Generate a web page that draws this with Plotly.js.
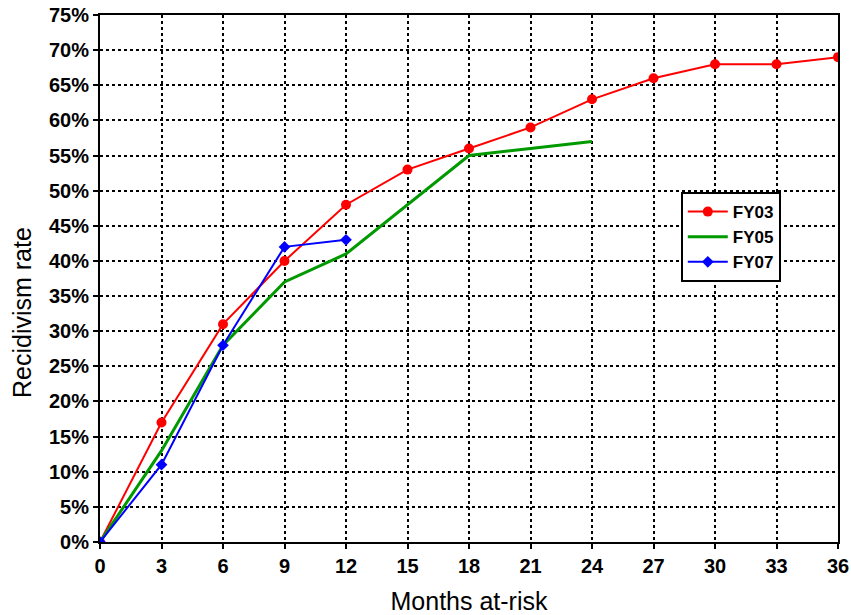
<!DOCTYPE html>
<html>
<head>
<meta charset="utf-8">
<script src="https://cdn.plot.ly/plotly-3.0.1.min.js"></script>
<style>html,body{margin:0;padding:0;background:#fff;}#chart{width:851px;height:615px;}</style>
</head>
<body>
<div id="chart"></div>
<script>
const months = [0, 3, 6, 9, 12, 15, 18, 21, 24, 27, 30, 33, 36];
const fy03 = [0, 0.17, 0.31, 0.40, 0.48, 0.53, 0.56, 0.59, 0.63, 0.66, 0.68, 0.68, 0.69];
const fy05Months = [0, 3, 6, 9, 12, 15, 18, 21, 24];
const fy05 = [0, 0.13, 0.28, 0.37, 0.41, 0.48, 0.55, 0.56, 0.57];
const fy07Months = [0, 3, 6, 9, 12];
const fy07 = [0, 0.11, 0.28, 0.42, 0.43];
const xTicks = [0, 3, 6, 9, 12, 15, 18, 21, 24, 27, 30, 33, 36];

const traces = [
  {x: months, y: fy03, name: 'FY03', mode: 'lines+markers', type: 'scatter',
   line: {color: '#ff0000', width: 2}, marker: {color: '#ff0000', size: 10, symbol: 'circle'}},
  {x: fy05Months, y: fy05, name: 'FY05', mode: 'lines', type: 'scatter',
   line: {color: '#009900', width: 3}},
  {x: fy07Months, y: fy07, name: 'FY07', mode: 'lines+markers', type: 'scatter',
   line: {color: '#0000ff', width: 2}, marker: {color: '#0000ff', size: 9, symbol: 'diamond'}}
];

const layout = {
  width: 851, height: 615,
  margin: {l: 100, r: 13, t: 15, b: 73},
  paper_bgcolor: '#fff', plot_bgcolor: '#fff',
  font: {family: 'Liberation Sans, Arial, sans-serif', color: '#000'},
  showlegend: true,
  legend: {x: 0.787, y: 0.664, xanchor: 'left', yanchor: 'top',
    bordercolor: '#000', borderwidth: 2, bgcolor: '#fff',
    font: {size: 17, family: 'Liberation Sans, Arial, sans-serif', weight: 'bold'},
    tracegroupgap: 0, itemwidth: 40},
  xaxis: {
    range: [0, 36], tickvals: xTicks, ticktext: xTicks.map(String),
    showgrid: true, gridcolor: '#000', gridwidth: 2, griddash: 'dot',
    showline: true, linecolor: '#000', linewidth: 2, mirror: true,
    ticks: 'outside', ticklen: 5, tickcolor: '#000', tickwidth: 2,
    tickfont: {size: 20, weight: 'bold'}, zeroline: false,
    title: {text: 'Months at-risk', font: {size: 25}, standoff: 22}
  },
  yaxis: {
    range: [0, 0.75], dtick: 0.05, tickformat: '.0%',
    showgrid: true, gridcolor: '#000', gridwidth: 2, griddash: 'dot',
    showline: true, linecolor: '#000', linewidth: 2, mirror: true,
    ticks: 'outside', ticklen: 5, tickcolor: '#000', tickwidth: 2,
    tickfont: {size: 20, weight: 'bold'}, zeroline: false
  },
  annotations: [{
    text: 'Recidivism rate', textangle: -90, showarrow: false,
    xref: 'paper', yref: 'paper', x: -0.106, y: 0.436,
    xanchor: 'center', yanchor: 'middle', font: {size: 25}
  }]
};

Plotly.newPlot('chart', traces, layout, {displayModeBar: false, staticPlot: true});
</script>
</body>
</html>
